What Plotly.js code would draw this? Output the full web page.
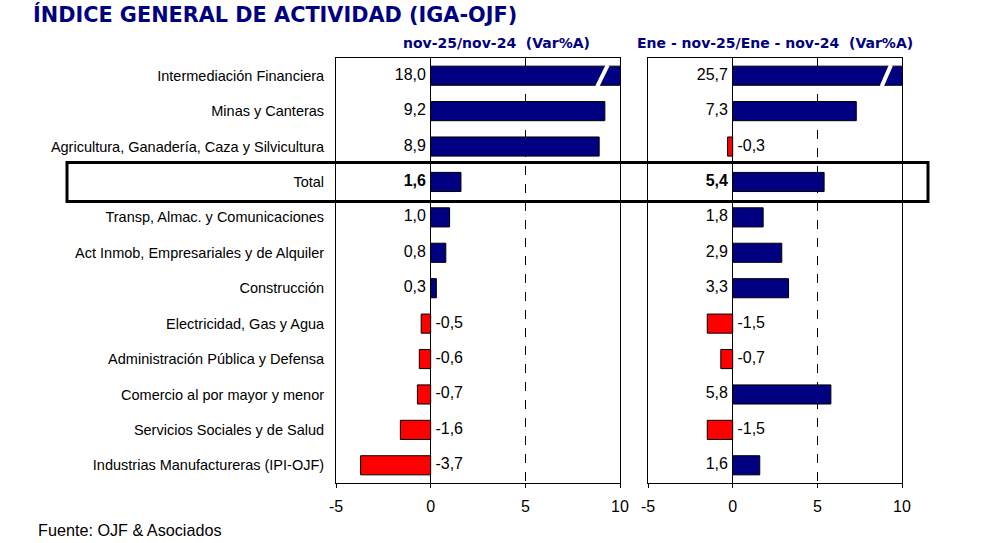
<!DOCTYPE html>
<html>
<head>
<meta charset="utf-8">
<script src="https://cdn.plot.ly/plotly-3.0.1.min.js"></script>
<style>html,body{margin:0;padding:0;background:#fff;}#chart{width:990px;height:543px;}</style>
</head>
<body>
<div id="chart"></div>
<script>
const categories = [
  "Intermediación Financiera",
  "Minas y Canteras",
  "Agricultura, Ganadería, Caza y Silvicultura",
  "Total",
  "Transp, Almac. y Comunicaciones",
  "Act Inmob, Empresariales y de Alquiler",
  "Construcción",
  "Electricidad, Gas y Agua",
  "Administración Pública y Defensa",
  "Comercio al por mayor y menor",
  "Servicios Sociales y de Salud",
  "Industrias Manufactureras (IPI-OJF)"
];
const monthly = [18.0, 9.2, 8.9, 1.6, 1.0, 0.8, 0.3, -0.5, -0.6, -0.7, -1.6, -3.7];
const cumulative = [25.7, 7.3, -0.3, 5.4, 1.8, 2.9, 3.3, -1.5, -0.7, 5.8, -1.5, 1.6];
const xTicks = [-5, 0, 5, 10];
const xRange = [-5, 10];
const title = "ÍNDICE GENERAL DE ACTIVIDAD (IGA-OJF)";
const subLeft = "nov-25/nov-24  (Var%A)";
const subRight = "Ene - nov-25/Ene - nov-24  (Var%A)";
const source = "Fuente: OJF & Asociados";

const W = 990, H = 543;
const NAVY = "#000080", RED = "#ff0000";
const ARIAL = "Liberation Sans, Arial, sans-serif";
const VERD = "DejaVu Sans, Verdana, sans-serif";

function fmt(v){ return v.toFixed(1).replace(".", ","); }

function barTrace(vals, xa, ya){
  return {
    type: "bar", orientation: "h",
    y: categories, x: vals,
    xaxis: xa, yaxis: ya,
    width: 0.54,
    marker: {color: vals.map(v => v >= 0 ? NAVY : RED), line: {color: "#000", width: 1}},
    hoverinfo: "skip", showlegend: false
  };
}
function textTrace(vals, xa, ya){
  return {
    type: "scatter", mode: "markers+text",
    y: categories, x: vals.map(() => 0),
    xaxis: xa, yaxis: ya,
    marker: {size: 6, color: "rgba(0,0,0,0)"},
    text: vals.map((v, i) => categories[i] === "Total" ? "<b>" + fmt(v) + "</b>" : fmt(v)),
    textposition: vals.map(v => v >= 0 ? "middle left" : "middle right"),
    textfont: {family: ARIAL, size: 16, color: "#000"},
    cliponaxis: false,
    hoverinfo: "skip", showlegend: false
  };
}

const px = x => x / W;
const py = y => 1 - y / H;

const xaxisBase = {
  range: xRange, tickvals: xTicks, ticktext: xTicks.map(String),
  ticks: "outside", ticklen: 4, tickcolor: "#000", tickwidth: 1,
  ticklabelstandoff: 5,
  showline: true, linecolor: "#000", linewidth: 1, mirror: true,
  showgrid: true, griddash: "dash", gridcolor: "#000", gridwidth: 1,
  zeroline: true, zerolinecolor: "#000", zerolinewidth: 1,
  tickfont: {family: ARIAL, size: 16, color: "#000"},
  fixedrange: true
};
const yaxisBase = {
  type: "category",
  range: [categories.length - 0.5, -0.5],
  domain: [py(483), py(58)],
  showline: true, linecolor: "#000", linewidth: 1, mirror: true,
  showgrid: false, zeroline: false, fixedrange: true
};

const layout = {
  width: W, height: H,
  margin: {l: 0, r: 0, t: 0, b: 0},
  paper_bgcolor: "#fff", plot_bgcolor: "#fff",
  title: {
    text: "<b>" + title + "</b>",
    x: px(33), xanchor: "left", xref: "paper",
    y: py(15), yanchor: "middle", yref: "paper",
    font: {family: VERD, size: 20.8, color: NAVY}
  },
  xaxis: Object.assign({}, xaxisBase, {domain: [px(336), px(620)], anchor: "y"}),
  xaxis2: Object.assign({}, xaxisBase, {domain: [px(648), px(902)], anchor: "y2"}),
  yaxis: Object.assign({}, yaxisBase, {
    anchor: "x", showticklabels: true, ticks: "", ticklabelstandoff: 8,
    tickfont: {family: ARIAL, size: 14.5, color: "#000"}
  }),
  yaxis2: Object.assign({}, yaxisBase, {anchor: "x2", showticklabels: false, ticks: ""}),
  annotations: [
    {text: "<b>" + subLeft + "</b>", xref: "paper", yref: "paper", x: px(496), y: py(43),
     xanchor: "center", yanchor: "middle", showarrow: false,
     font: {family: VERD, size: 14, color: NAVY}},
    {text: "<b>" + subRight + "</b>", xref: "paper", yref: "paper", x: px(775), y: py(43),
     xanchor: "center", yanchor: "middle", showarrow: false,
     font: {family: VERD, size: 14, color: NAVY}},
    {text: source, xref: "paper", yref: "paper", x: px(36), y: py(530),
     xanchor: "left", yanchor: "middle", showarrow: false,
     font: {family: ARIAL, size: 16.2, color: "#000"}}
  ],
  shapes: []
};

// Total row highlight box
const totalIdx = categories.indexOf("Total");
layout.shapes.push({
  type: "rect", xref: "paper", yref: "y",
  x0: px(67), x1: px(928), y0: totalIdx - 0.55, y1: totalIdx + 0.55,
  line: {color: "#000", width: 3}, fillcolor: "rgba(0,0,0,0)", layer: "above"
});

// Axis-break slashes on bars exceeding the axis range
function addBreaks(vals, xref, yref){
  vals.forEach((v, i) => {
    if (v > xRange[1]) {
      layout.shapes.push({
        type: "line", xref: xref, yref: yref,
        x0: xRange[1] - 1.2, x1: xRange[1] - 0.65,
        y0: i + 0.3, y1: i - 0.3,
        line: {color: "#fff", width: 4}, layer: "above"
      });
    }
  });
}
addBreaks(monthly, "x", "y");
addBreaks(cumulative, "x2", "y2");

const data = [
  barTrace(monthly, "x", "y"),
  textTrace(monthly, "x", "y"),
  barTrace(cumulative, "x2", "y2"),
  textTrace(cumulative, "x2", "y2")
];

Plotly.newPlot("chart", data, layout, {displayModeBar: false, staticPlot: true});
</script>
</body>
</html>
